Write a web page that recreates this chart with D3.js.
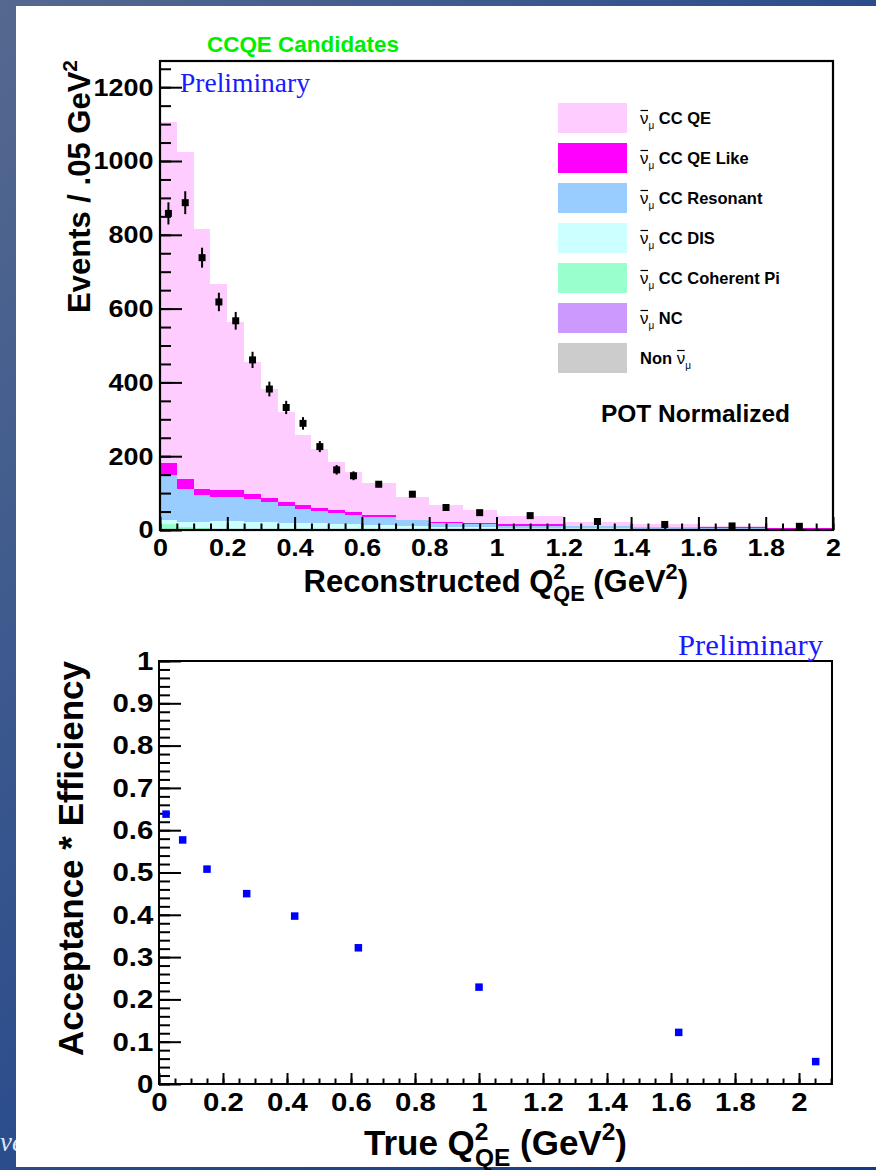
<!DOCTYPE html>
<html>
<head>
<meta charset="utf-8">
<script src="https://cdnjs.cloudflare.com/ajax/libs/d3/7.8.5/d3.min.js"></script>
<style>
body { margin: 0; padding: 0; background: #fff; }
svg { display: block; }
text { font-family: "Liberation Sans", Arial, Helvetica, sans-serif; }
</style>
</head>
<body>
<div id="chart"></div>
<script>
// histogram bin edges, reconstructed Q2 (GeV2)
var binEdges = [0, 0.05, 0.1, 0.15, 0.2, 0.25, 0.3, 0.35, 0.4, 0.45, 0.5, 0.55, 0.6, 0.7, 0.8, 0.9, 1.0, 1.2, 1.4, 1.6, 1.8, 2.0];

// MC components (events / .05 GeV2), one value per bin
var ccQE      = [925, 888, 704, 558, 457, 359, 294, 244, 189, 160, 130, 109, 86, 62, 46, 35, 22, 11, 8, 3, 1];
var ccQELike  = [32, 25, 16, 18, 18, 13, 12, 11, 10, 8, 8, 7, 6, 2, 2, 2, 4, 2, 2, 2, 1];
var ccRes     = [122, 89, 72, 65, 65, 61, 53, 46, 38, 33, 28, 25, 22, 15, 11, 9, 6, 5, 3, 2, 2];
var ccDIS     = [11, 15, 18, 21, 22, 20, 21, 18, 18, 17, 16, 15, 12, 10, 8, 8, 6, 5, 4, 3, 2];
var ccCohPi   = [16, 8, 5, 4, 3, 3, 2, 2, 2, 1, 1, 1, 1, 1, 1, 0, 0, 0, 0, 0, 0];
var ncVals    = [0, 0, 0, 0, 0, 0, 0, 0, 0, 0, 0, 0, 0, 0, 0, 0, 0, 0, 0, 0, 0];
var nonNumu   = [0, 0, 0, 0, 0, 0, 0, 0, 0, 0, 0, 0, 0, 0, 0, 0, 0, 0, 0, 0, 0];

// data points
var dataVals = [858, 887, 738, 618, 567, 461, 382, 332, 289, 226, 163, 147, 124, 97, 61, 47, 39, 23, 15, 11, 10];
var dataErrs = [30, 31, 27, 25, 24, 22, 20, 18, 17, 15, 13, 12, 8, 7, 6, 5, 3, 3, 2, 2, 2];

var legendNames  = ["CC QE", "CC QE Like", "CC Resonant", "CC DIS", "CC Coherent Pi", "NC", "Non"];
var legendColors = ["#ffccff", "#ff00ff", "#99ccff", "#ccffff", "#99ffcc", "#cc99ff", "#cccccc"];

// acceptance * efficiency vs true Q2
var accQ2  = [0.022, 0.074, 0.15, 0.274, 0.424, 0.623, 1.0, 1.624, 2.052];
var accEff = [0.638, 0.577, 0.508, 0.450, 0.397, 0.322, 0.229, 0.122, 0.053];

var topXTicks = d3.range(0, 11).map(function(i) { return i * 0.2; });
var topYTicks = d3.range(0, 7).map(function(i) { return i * 200; });
var botXTicks = d3.range(0, 11).map(function(i) { return i * 0.2; });
var botYTicks = d3.range(0, 11).map(function(i) { return i / 10; });

var W = 876, H = 1170;
var svg = d3.select("#chart").append("svg").attr("width", W).attr("height", H);

// slide background
var grad = svg.append("defs").append("linearGradient").attr("id", "bg")
  .attr("x1", 0).attr("y1", 0).attr("x2", 1).attr("y2", 1);
grad.append("stop").attr("offset", "0%").attr("stop-color", "#55698f");
grad.append("stop").attr("offset", "55%").attr("stop-color", "#274a8c");
grad.append("stop").attr("offset", "100%").attr("stop-color", "#163a86");
svg.append("rect").attr("width", W).attr("height", H).attr("fill", "url(#bg)");
svg.append("text").attr("x", 0).attr("y", 1151)
  .style("font-family", "'Liberation Serif', serif").style("font-style", "italic")
  .attr("font-size", 27).attr("fill", "#dfe6f3").text("ve");
svg.append("rect").attr("x", 16).attr("y", 6).attr("width", W - 16).attr("height", 1161).attr("fill", "#fff");

function fmt(d) { return String(Math.round(d * 10) / 10); }

function styleAxis(g, fs, sx, sw) {
  g.select(".domain").remove();
  g.selectAll("line").attr("stroke", "#000").attr("stroke-width", sw);
  g.selectAll("text").attr("font-size", fs).attr("font-weight", "bold").attr("fill", "#000")
    .attr("transform", "scale(" + sx + ",1)");
}

// ============ TOP PLOT ============
var topG = svg.append("g");
var x1 = d3.scaleLinear().domain([0, 2]).range([160, 833]);
var y1 = d3.scaleLinear().domain([0, 1271]).range([530, 61]);

var rows = binEdges.slice(0, -1).map(function(e, i) {
  return { i: i, non: nonNumu[i], nc: ncVals[i], coh: ccCohPi[i], dis: ccDIS[i], res: ccRes[i], qeLike: ccQELike[i], qe: ccQE[i] };
});
var keys = ["non", "nc", "coh", "dis", "res", "qeLike", "qe"];
var keyColor = { qe: legendColors[0], qeLike: legendColors[1], res: legendColors[2], dis: legendColors[3], coh: legendColors[4], nc: legendColors[5], non: legendColors[6] };
var stacked = d3.stack().keys(keys)(rows);

stacked.forEach(function(layer) {
  topG.append("g").selectAll("rect").data(layer).join("rect")
    .attr("x", function(d, i) { return x1(binEdges[i]); })
    .attr("width", function(d, i) { return x1(binEdges[i + 1]) - x1(binEdges[i]); })
    .attr("y", function(d) { return y1(d[1]); })
    .attr("height", function(d) { return y1(d[0]) - y1(d[1]); })
    .attr("fill", keyColor[layer.key])
    .attr("shape-rendering", "crispEdges");
});

// data points with error bars
var pts = topG.append("g");
dataVals.forEach(function(v, i) {
  var cx = x1((binEdges[i] + binEdges[i + 1]) / 2);
  pts.append("line").attr("x1", cx).attr("x2", cx)
    .attr("y1", y1(v - dataErrs[i])).attr("y2", y1(v + dataErrs[i]))
    .attr("stroke", "#000").attr("stroke-width", 2);
  pts.append("rect").attr("x", cx - 3.5).attr("y", y1(v) - 3.5).attr("width", 7).attr("height", 7).attr("fill", "#000");
});

// axes
var gx1 = topG.append("g").attr("transform", "translate(0,530)")
  .call(d3.axisBottom(x1).tickValues(topXTicks).tickSize(-13).tickPadding(9).tickFormat(fmt));
styleAxis(gx1, 24.5, 1.1, 2);
var gx1m = topG.append("g").attr("transform", "translate(0,530)")
  .call(d3.axisBottom(x1).tickValues(d3.range(0, 41).map(function(i) { return i * 0.05; })).tickSize(-6.5).tickFormat(""));
styleAxis(gx1m, 10, 1, 2);
var gy1 = topG.append("g").attr("transform", "translate(160,0)")
  .call(d3.axisLeft(y1).tickValues(topYTicks).tickSize(-22).tickPadding(6).tickFormat(fmt));
styleAxis(gy1, 24.5, 1.1, 2);
var gy1m = topG.append("g").attr("transform", "translate(160,0)")
  .call(d3.axisLeft(y1).tickValues(d3.range(0, 26).map(function(i) { return i * 50; })).tickSize(-11).tickFormat(""));
styleAxis(gy1m, 10, 1, 2);
topG.append("rect").attr("x", 160).attr("y", 61).attr("width", 673).attr("height", 469)
  .attr("fill", "none").attr("stroke", "#000").attr("stroke-width", 2.2);

// titles
topG.append("text").attr("x", 207).attr("y", 52).attr("font-size", 22.5).attr("font-weight", "bold")
  .attr("fill", "#00ee00").attr("textLength", 192).attr("lengthAdjust", "spacingAndGlyphs").text("CCQE Candidates");
topG.append("text").attr("x", 180).attr("y", 92).style("font-family", "'Liberation Serif', serif")
  .attr("font-size", 27).attr("fill", "#1a1aff").attr("textLength", 130).attr("lengthAdjust", "spacingAndGlyphs").text("Preliminary");
topG.append("text").attr("x", 601).attr("y", 422).attr("font-size", 23.5).attr("font-weight", "bold")
  .attr("textLength", 189).attr("lengthAdjust", "spacingAndGlyphs").text("POT Normalized");

var yt1 = topG.append("text").attr("transform", "translate(90,60) rotate(-90)").attr("text-anchor", "end")
  .attr("font-size", 31).attr("font-weight", "bold");
yt1.append("tspan").text("Events / .05 GeV");
yt1.append("tspan").attr("font-size", 21).attr("dy", -13).text("2");

function qTitle(g, xEnd, base, fs, prefix) {
  var s = fs * 0.7;
  var t = g.append("text").attr("x", xEnd).attr("y", base).attr("text-anchor", "end")
    .attr("font-size", fs).attr("font-weight", "bold");
  t.append("tspan").text(prefix + "Q");
  t.append("tspan").attr("font-size", s).attr("dy", -fs * 0.42).text("2");
  t.append("tspan").attr("font-size", s).attr("dx", -s * 0.556).attr("dy", fs * 0.72).text("QE");
  t.append("tspan").attr("dy", -fs * 0.3).text(" (GeV");
  t.append("tspan").attr("font-size", s).attr("dy", -fs * 0.42).text("2");
  t.append("tspan").attr("dy", fs * 0.42).text(")");
  return t;
}
qTitle(topG, 688, 592, 31, "Reconstructed ");

// legend
var leg = topG.append("g");
legendNames.forEach(function(name, i) {
  var yTop = 103 + 40 * i;
  leg.append("rect").attr("x", 558).attr("y", yTop).attr("width", 69).attr("height", 30).attr("fill", legendColors[i]);
  var base = yTop + 21;
  var t = leg.append("text").attr("x", 640).attr("y", base).attr("font-size", 16.5).attr("font-weight", "bold");
  if (name === "Non") t.append("tspan").text("Non ");
  t.append("tspan").attr("font-weight", "normal").attr("font-size", 17).text("\u03bd");
  t.append("tspan").attr("font-weight", "normal").attr("font-size", 10).attr("dy", 5).text("\u03bc");
  if (name !== "Non") t.append("tspan").attr("dy", -5).text(" " + name);
  var node = t.node();
  var idx = name === "Non" ? 4 : 0;
  var sx0 = node.getStartPositionOfChar(idx).x, sx1 = node.getEndPositionOfChar(idx).x;
  leg.append("line").attr("x1", sx0 + 0.5).attr("x2", sx1 - 0.5).attr("y1", base - 13.5).attr("y2", base - 13.5)
    .attr("stroke", "#000").attr("stroke-width", 1.2);
});

// ============ BOTTOM PLOT ============
var botG = svg.append("g");
var x2 = d3.scaleLinear().domain([0, 2.103]).range([159, 832]);
var y2 = d3.scaleLinear().domain([0, 1]).range([1084, 661]);

var gx2 = botG.append("g").attr("transform", "translate(0,1084)")
  .call(d3.axisBottom(x2).tickValues(botXTicks).tickSize(-11).tickPadding(9).tickFormat(fmt));
styleAxis(gx2, 26, 1.13, 2);
var gx2m = botG.append("g").attr("transform", "translate(0,1084)")
  .call(d3.axisBottom(x2).tickValues(d3.range(0, 43).map(function(i) { return i * 0.05; })).tickSize(-5.5).tickFormat(""));
styleAxis(gx2m, 10, 1, 2);
var gy2 = botG.append("g").attr("transform", "translate(159,0)")
  .call(d3.axisLeft(y2).tickValues(botYTicks).tickSize(-22).tickPadding(5).tickFormat(fmt));
styleAxis(gy2, 26, 1.13, 2);
var gy2m = botG.append("g").attr("transform", "translate(159,0)")
  .call(d3.axisLeft(y2).tickValues(d3.range(0, 51).map(function(i) { return i * 0.02; })).tickSize(-11).tickFormat(""));
styleAxis(gy2m, 10, 1, 2);
botG.append("rect").attr("x", 159).attr("y", 661).attr("width", 673).attr("height", 423)
  .attr("fill", "none").attr("stroke", "#000").attr("stroke-width", 2);

botG.append("g").selectAll("rect").data(accQ2).join("rect")
  .attr("x", function(d) { return x2(d) - 3.75; })
  .attr("y", function(d, i) { return y2(accEff[i]) - 3.75; })
  .attr("width", 7.5).attr("height", 7.5).attr("fill", "#0000ff");

botG.append("text").attr("x", 678).attr("y", 655).style("font-family", "'Liberation Serif', serif")
  .attr("font-size", 30).attr("fill", "#1a1aff").attr("textLength", 145).attr("lengthAdjust", "spacingAndGlyphs").text("Preliminary");

botG.append("text").attr("transform", "translate(83,661) rotate(-90)").attr("text-anchor", "end")
  .attr("font-size", 35).attr("font-weight", "bold").text("Acceptance * Efficiency");
qTitle(botG, 627, 1155, 35, "True ");
</script>
</body>
</html>
